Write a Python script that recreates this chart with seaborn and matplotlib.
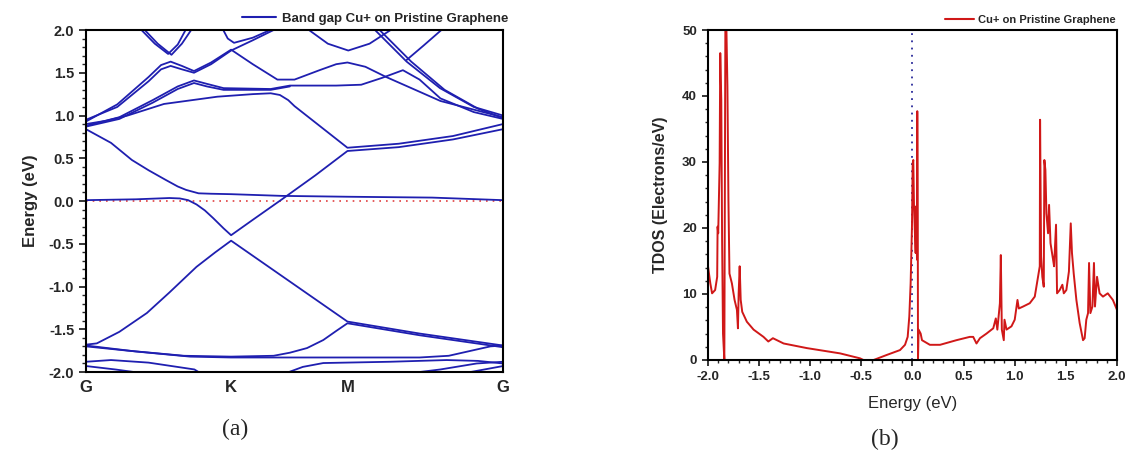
import numpy as np
import pandas as pd
import matplotlib
matplotlib.use("Agg")
import matplotlib.pyplot as plt
from matplotlib.lines import Line2D
from matplotlib.ticker import MultipleLocator
import seaborn as sns

# ---------------- data: band structure (k as fraction of G-K-M-G path) ----------------
HSP_POS = [0.0, 0.348, 0.627, 1.0]
HSP_LABELS = ["G", "K", "M", "G"]

band_flat_k = [0, 0.06, 0.11, 0.15, 0.19, 0.22, 0.24, 0.27, 0.30, 0.348, 0.47, 0.627, 0.83, 1.0]
band_flat_E = [0.84, 0.68, 0.48, 0.36, 0.25, 0.17, 0.13, 0.09, 0.085, 0.08, 0.06, 0.05, 0.04, 0.01]

band_dirac_up_k = [0, 0.12, 0.20, 0.225, 0.245, 0.265, 0.285, 0.305, 0.33, 0.348, 0.40, 0.47, 0.55, 0.627, 0.75, 0.88, 1.0]
band_dirac_up_E = [0.01, 0.02, 0.035, 0.03, 0.01, -0.04, -0.11, -0.20, -0.32, -0.40, -0.22, 0.02, 0.30, 0.585, 0.63, 0.72, 0.84]

band_dirac_dn_k = [0, 0.026, 0.08, 0.146, 0.20, 0.265, 0.31, 0.348, 0.627, 0.80, 1.0]
band_dirac_dn_E = [-1.68, -1.665, -1.53, -1.31, -1.07, -0.77, -0.60, -0.464, -1.41, -1.55, -1.69]

band_v1_k = [0, 0.10, 0.235, 0.348, 0.45, 0.489, 0.53, 0.569, 0.60, 0.627, 0.80, 1.0]
band_v1_E = [-1.70, -1.75, -1.81, -1.82, -1.81, -1.774, -1.72, -1.626, -1.52, -1.43, -1.57, -1.71]

band_v2_k = [0, 0.12, 0.25, 0.348, 0.627, 0.80, 0.87, 0.97, 1.0]
band_v2_E = [-1.69, -1.76, -1.82, -1.83, -1.83, -1.83, -1.81, -1.70, -1.69]

band_v3_k = [0, 0.06, 0.15, 0.26, 0.28]
band_v3_E = [-1.88, -1.86, -1.89, -1.97, -2.03]

band_v4_k = [0, 0.07, 0.16]
band_v4_E = [-1.93, -1.97, -2.03]

band_v5_k = [0.47, 0.52, 0.569, 0.729, 0.865, 0.94, 1.0]
band_v5_E = [-2.03, -1.94, -1.895, -1.88, -1.86, -1.87, -1.90]

band_v6_k = [0.75, 0.85, 0.937, 1.0]
band_v6_E = [-2.03, -1.97, -1.90, -1.88]

band_v7_k = [0.90, 1.0]
band_v7_E = [-2.02, -1.93]

band_c1_k = [0, 0.05, 0.10, 0.187, 0.315, 0.40, 0.443, 0.465, 0.485, 0.50, 0.627, 0.75, 0.88, 1.0]
band_c1_E = [0.90, 0.94, 1.00, 1.135, 1.22, 1.25, 1.26, 1.24, 1.18, 1.11, 0.623, 0.67, 0.76, 0.90]

band_c2_k = [0, 0.08, 0.16, 0.22, 0.259, 0.29, 0.33, 0.443, 0.489, 0.60, 0.66, 0.71, 0.76, 0.80, 0.85, 0.93, 1.0]
band_c2_E = [0.88, 0.98, 1.18, 1.34, 1.41, 1.37, 1.32, 1.31, 1.35, 1.35, 1.36, 1.44, 1.53, 1.42, 1.20, 1.04, 0.96]

band_c3_k = [0, 0.08, 0.16, 0.22, 0.259, 0.29, 0.33, 0.443, 0.489]
band_c3_E = [0.87, 0.96, 1.15, 1.31, 1.38, 1.34, 1.30, 1.30, 1.34]

band_c4_k = [0, 0.075, 0.15, 0.18, 0.203, 0.23, 0.259, 0.30, 0.348, 0.40, 0.459, 0.50, 0.56, 0.60, 0.627, 0.67, 0.72, 0.85, 1.0]
band_c4_E = [0.93, 1.13, 1.45, 1.59, 1.63, 1.58, 1.52, 1.62, 1.77, 1.60, 1.42, 1.42, 1.53, 1.60, 1.62, 1.57, 1.45, 1.17, 0.98]

band_c5_k = [0, 0.075, 0.15, 0.18, 0.203, 0.23, 0.259, 0.30, 0.348, 0.40, 0.45]
band_c5_E = [0.95, 1.10, 1.40, 1.54, 1.58, 1.54, 1.50, 1.60, 1.76, 1.88, 2.0]

band_c6_k = [0.129, 0.165, 0.197, 0.22, 0.241]
band_c6_E = [2.02, 1.84, 1.72, 1.83, 2.02]

band_c7_k = [0.137, 0.172, 0.205, 0.23, 0.255]
band_c7_E = [2.02, 1.84, 1.71, 1.84, 2.02]

band_c8_k = [0.327, 0.34, 0.355, 0.40, 0.451]
band_c8_E = [2.02, 1.90, 1.85, 1.91, 2.02]

band_c9_k = [0.529, 0.58, 0.629, 0.68, 0.737]
band_c9_E = [2.02, 1.84, 1.76, 1.84, 2.02]

band_c10_k = [0.689, 0.769, 0.849, 0.93, 1.0]
band_c10_E = [2.02, 1.63, 1.32, 1.10, 1.0]

band_c11_k = [0.70, 0.78, 0.86, 0.94, 1.0]
band_c11_E = [2.02, 1.63, 1.30, 1.08, 0.97]

band_c12_k = [0.769, 0.81, 0.857]
band_c12_E = [1.65, 1.82, 2.02]

BANDS = [
    (band_flat_k, band_flat_E), (band_dirac_up_k, band_dirac_up_E),
    (band_dirac_dn_k, band_dirac_dn_E), (band_v1_k, band_v1_E),
    (band_v2_k, band_v2_E), (band_v3_k, band_v3_E), (band_v4_k, band_v4_E),
    (band_v5_k, band_v5_E), (band_v6_k, band_v6_E), (band_v7_k, band_v7_E),
    (band_c1_k, band_c1_E), (band_c2_k, band_c2_E), (band_c3_k, band_c3_E),
    (band_c4_k, band_c4_E), (band_c5_k, band_c5_E), (band_c6_k, band_c6_E),
    (band_c7_k, band_c7_E), (band_c8_k, band_c8_E), (band_c9_k, band_c9_E),
    (band_c10_k, band_c10_E), (band_c11_k, band_c11_E), (band_c12_k, band_c12_E),
]

# ---------------- data: total density of states ----------------
dos_E = [-2.0, -1.977, -1.96, -1.93, -1.91, -1.906, -1.90, -1.886, -1.88, -1.87, -1.862,
         -1.853, -1.84, -1.83, -1.82, -1.81, -1.80, -1.79, -1.766, -1.74, -1.717, -1.707,
         -1.70, -1.69, -1.68, -1.665, -1.62, -1.554, -1.457, -1.41, -1.365, -1.26, -1.033,
         -0.708, -0.513, -0.48, -0.38, -0.252, -0.122, -0.073, -0.047, -0.031, -0.018,
         -0.005, 0.002, 0.008, 0.015, 0.024, 0.031, 0.037, 0.044, 0.047, 0.052, 0.054,
         0.06, 0.08, 0.093, 0.17, 0.27, 0.43, 0.56, 0.594, 0.626, 0.66, 0.724, 0.79,
         0.815, 0.83, 0.855, 0.864, 0.874, 0.893, 0.90, 0.92, 0.968, 1.0, 1.027, 1.04,
         1.082, 1.147, 1.196, 1.228, 1.245, 1.248, 1.258, 1.27, 1.284, 1.29, 1.30, 1.31,
         1.326, 1.336, 1.35, 1.375, 1.385, 1.404, 1.414, 1.44, 1.466, 1.48, 1.505, 1.53,
         1.548, 1.56, 1.577, 1.603, 1.635, 1.668, 1.684, 1.70, 1.717, 1.727, 1.74, 1.76,
         1.775, 1.785, 1.805, 1.83, 1.863, 1.91, 1.96, 2.0]
dos_val = [14.2, 11.6, 10.1, 10.6, 12.6, 20.2, 19.2, 29.8, 46.5, 39.4, 18.2,
           4.0, 0.0, 50.5, 50.5, 41.5, 24.3, 13.1, 11.6, 9.1, 7.6, 4.8,
           10.1, 14.2, 9.1, 7.3, 5.8, 4.6, 3.5, 2.8, 3.3, 2.5, 1.8,
           1.0, 0.25, 0.0, 0.0, 0.76, 1.5, 2.3, 3.5, 6.6, 11.6,
           20.2, 29.8, 30.3, 23.3, 19.2, 16.2, 23.3, 15.2, 37.7, 20.0, 0.0,
           4.6, 4.0, 3.0, 2.3, 2.3, 3.0, 3.5, 3.5, 2.5, 3.3, 4.0, 4.8,
           6.3, 4.6, 8.6, 15.9, 4.6, 3.0, 6.1, 4.6, 5.1, 6.1, 9.1, 7.8,
           8.1, 8.6, 9.6, 12.6, 14.2, 36.4, 15.7, 12.6, 11.1, 30.3, 28.8, 22.2,
           19.2, 23.5, 17.7, 15.2, 14.2, 20.5, 10.1, 10.6, 11.4, 10.1, 10.6, 13.4,
           20.7, 16.2, 13.1, 9.1, 5.6, 3.0, 3.3, 6.1, 7.1, 14.7, 7.1, 8.1,
           14.7, 8.1, 12.6, 10.1, 9.6, 10.1, 9.1, 7.6]

LEGEND_A = "Band gap Cu+ on Pristine Graphene"
LEGEND_B = "Cu+ on Pristine Graphene"

BLUE = "#1f1fb0"
RED = "#d01818"

# ---------------- figure ----------------
sns.set_style("white")
plt.rcParams["font.family"] = ["Liberation Sans", "DejaVu Sans"]

fig = plt.figure(figsize=(11.27, 4.63), dpi=100)
axA = fig.add_axes([0.0763, 0.1965, 0.3700, 0.7387])
axB = fig.add_axes([0.6282, 0.2225, 0.3629, 0.7127])

# ---- panel (a) ----
rows = []
for i, (ks, es) in enumerate(BANDS):
    for k, e in zip(ks, es):
        rows.append({"k": k, "E": e, "band": i})
df_bands = pd.DataFrame(rows)
sns.lineplot(data=df_bands, x="k", y="E", units="band", estimator=None, sort=False,
             color=BLUE, lw=1.3, ax=axA, legend=False)
axA.axhline(0.0, color="#e04040", lw=1.2, ls=(0, (1, 3)), zorder=1)
axA.set_xlim(0, 1)
axA.set_ylim(-2, 2)
axA.set_xticks(HSP_POS)
axA.set_xticklabels(HSP_LABELS, fontsize=12, fontweight="bold")
axA.tick_params(axis="x", length=0, pad=6)
axA.yaxis.set_minor_locator(MultipleLocator(0.1))
axA.set_yticks(np.arange(-2, 2.01, 0.5))
axA.set_yticklabels([f"{v:.1f}" for v in np.arange(-2, 2.01, 0.5)], fontsize=10.5, fontweight="bold")
axA.tick_params(axis="y", which="major", direction="out", length=5, width=1.3, left=True)
axA.tick_params(axis="y", which="minor", direction="out", length=3, width=1.0, left=True)
axA.set_xlabel("")
axA.set_ylabel("Energy (eV)", fontsize=12, fontweight="bold", labelpad=8)
for s in axA.spines.values():
    s.set_visible(True)
    s.set_color("black")
    s.set_linewidth(1.5)
axA.legend([Line2D([0], [0], color=BLUE, lw=1.5)], [LEGEND_A], loc="lower right",
           bbox_to_anchor=(1.015, 1.012), frameon=False, handlelength=2.6,
           handletextpad=0.4, borderpad=0.1, borderaxespad=0.0,
           prop={"size": 9.5, "weight": "bold"})

# ---- panel (b) ----
df_dos = pd.DataFrame({"E": dos_E, "DOS": dos_val})
sns.lineplot(data=df_dos, x="E", y="DOS", sort=False, estimator=None, color=RED,
             lw=1.4, ax=axB, legend=False)
axB.axvline(0.0, color="#2a2a9a", lw=1.3, ls=(0, (1, 3)), zorder=1)
axB.set_xlim(-2, 2)
axB.set_ylim(0, 50)
axB.xaxis.set_minor_locator(MultipleLocator(0.1))
axB.yaxis.set_minor_locator(MultipleLocator(2))
axB.set_xticks(np.arange(-2, 2.01, 0.5))
axB.set_xticklabels([f"{v:.1f}" for v in np.arange(-2, 2.01, 0.5)], fontsize=9.5, fontweight="bold")
axB.set_yticks(np.arange(0, 51, 10))
axB.set_yticklabels([f"{v:d}" for v in range(0, 51, 10)], fontsize=9.5, fontweight="bold")
axB.tick_params(axis="both", which="major", direction="out", length=4.5, width=1.3,
                left=True, bottom=True)
axB.tick_params(axis="both", which="minor", direction="out", length=2.5, width=1.0,
                left=True, bottom=True)
axB.set_xlabel("Energy (eV)", fontsize=12, labelpad=9)
axB.set_ylabel("TDOS (Electrons/eV)", fontsize=11.5, fontweight="bold", labelpad=10)
for s in axB.spines.values():
    s.set_visible(True)
    s.set_color("black")
    s.set_linewidth(1.5)
axB.legend([Line2D([0], [0], color=RED, lw=1.5)], [LEGEND_B], loc="lower right",
           bbox_to_anchor=(1.0, 1.012), frameon=False, handlelength=2.6,
           handletextpad=0.4, borderpad=0.1, borderaxespad=0.0,
           prop={"size": 8, "weight": "bold"})

fig.text(0.2085, 0.072, "(a)", fontsize=17, family="Liberation Serif", ha="center", va="center")
fig.text(0.785, 0.050, "(b)", fontsize=17, family="Liberation Serif", ha="center", va="center")

fig.savefig("out.png", dpi=100)
